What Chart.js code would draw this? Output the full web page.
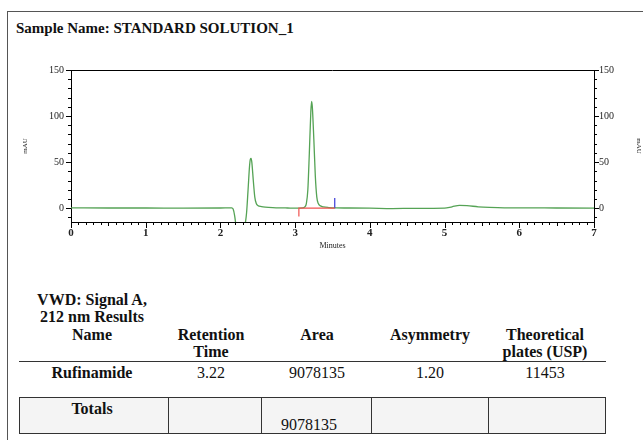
<!DOCTYPE html>
<html>
<head>
<meta charset="utf-8">
<script src="https://cdn.jsdelivr.net/npm/chart.js@4.4.1/dist/chart.umd.min.js"></script>
<style>
  body { margin: 0; background: #fff; }
  #page { position: relative; width: 643px; height: 440px; overflow: hidden; font-family: 'Liberation Serif', 'Times New Roman', serif; color: #111; }
  #frame { position: absolute; left: 7px; top: 11px; width: 700px; height: 500px; border-left: 1.5px solid #555; border-top: 1.5px solid #555; }
  #title { position: absolute; left: 16px; top: 21px; font-weight: bold; font-size: 15px; line-height: 15px; white-space: nowrap; }
  #chart { position: absolute; left: 0; top: 0; }
  .t { position: absolute; font-size: 16px; line-height: 16px; white-space: nowrap; transform: translateX(-50%); }
  .b { font-weight: bold; }
  #rule { position: absolute; left: 19px; top: 361px; width: 587px; height: 0; border-top: 1.5px solid #333; }
  #totals { position: absolute; left: 19px; top: 397px; width: 585px; height: 35px; border: 1.5px solid #333; background: #f4f4f4; }
  .sep { position: absolute; top: 0; height: 35px; width: 0; border-left: 1.5px solid #333; }
</style>
</head>
<body>
<div id="page">
  <div id="frame"></div>
  <div id="title">Sample Name: STANDARD SOLUTION_1</div>
  <canvas id="chart" width="643" height="260"></canvas>
  <div id="rule"></div>
  <div id="totals"></div>
  <div id="table"></div>
</div>
<script>
// chromatogram trace (minutes, mAU)
const times = [0, 0.5, 1.0, 1.5, 2.0, 2.15, 2.17, 2.19, 2.21, 2.25, 2.30, 2.33, 2.35, 2.37, 2.39, 2.40, 2.41, 2.42, 2.44, 2.46, 2.48, 2.50, 2.55, 2.60, 2.70, 2.80, 2.90, 3.00, 3.10, 3.13, 3.15, 3.17, 3.19, 3.21, 3.22, 3.23, 3.25, 3.27, 3.29, 3.31, 3.34, 3.38, 3.45, 3.55, 3.70, 4.00, 4.30, 4.60, 5.00, 5.10, 5.20, 5.30, 5.45, 5.60, 5.80, 6.00, 6.50, 7.00];
const signal = [0.3, 0.2, 0.2, 0.1, 0.2, 0.3, -1, -8, -20, -40, -30, -18, -5, 20, 46, 53, 54, 50, 30, 12, 5, 3, 1.8, 1.2, 0.6, 0.3, 0.2, 0.1, 0.3, 1.5, 5, 20, 60, 105, 116, 110, 75, 35, 12, 5, 2.5, 1.4, 0.7, 0.3, 0.2, 0, -0.4, -0.2, 0, 1.5, 3, 2.8, 1.5, 0.8, 0.4, 0.4, 0.2, 0];

// integration baseline (red) and peak end marker (blue)
const baselineTimes = [3.05, 3.05, 3.53];
const baselineValues = [-9, 0, 0];
const markerTimes = [3.53, 3.53];
const markerValues = [0, 11];

const xTickLabels = [0, 1, 2, 3, 4, 5, 6, 7];
const yTickLabels = [0, 50, 100, 150];

// results table
const resultHeader = ['VWD: Signal A,', '212 nm Results'];
const columnNames = [['Name'], ['Retention', 'Time'], ['Area'], ['Asymmetry'], ['Theoretical', 'plates (USP)']];
const rowValues = ['Rufinamide', '3.22', '9078135', '1.20', '11453'];
const totalsValues = ['Totals', '', '9078135', '', ''];

const toPoints = (xs, ys) => xs.map((x, i) => ({ x: x, y: ys[i] }));

// build table text
const colCenters = [92, 211, 317, 430, 545];
const table = document.getElementById('table');
function addText(text, cx, top, bold) {
  const d = document.createElement('div');
  d.className = 't' + (bold ? ' b' : '');
  d.style.left = cx + 'px';
  d.style.top = top + 'px';
  d.textContent = text;
  table.appendChild(d);
}
resultHeader.forEach((s, i) => addText(s, colCenters[0], 292 + i * 17, true));
columnNames.forEach((lines, c) => lines.forEach((s, i) => addText(s, colCenters[c], 327 + i * 17, true)));
rowValues.forEach((s, c) => addText(s, colCenters[c], 365, c === 0));
addText(totalsValues[0], colCenters[0], 401, true);
totalsValues.slice(1).forEach((s, c) => { if (s) addText(s, 309, 417, false); });
const totalsBox = document.getElementById('totals');
[148, 241, 351, 468].forEach(x => {
  const s = document.createElement('div');
  s.className = 'sep';
  s.style.left = x + 'px';
  totalsBox.appendChild(s);
});

// tick marks (major/minor) and top frame line
const tickMarks = {
  id: 'tickMarks',
  afterDraw(chart) {
    const { ctx, chartArea: a, scales } = chart;
    ctx.save();
    ctx.strokeStyle = '#000';
    ctx.lineWidth = 1;
    ctx.beginPath();
    ctx.moveTo(a.left, a.top + 0.5);
    ctx.lineTo(a.right, a.top + 0.5);
    scales.x.ticks.forEach(t => {
      const v = Math.round(t.value * 10);
      const len = v % 10 === 0 ? 6 : (v % 5 === 0 ? 4 : 3);
      const px = Math.round(scales.x.getPixelForValue(t.value)) + 0.5;
      ctx.moveTo(px, a.bottom);
      ctx.lineTo(px, a.bottom + len);
    });
    ['y', 'y2'].forEach(id => {
      const s = scales[id];
      const dir = id === 'y' ? -1 : 1;
      const edge = id === 'y' ? a.left : a.right;
      s.ticks.forEach(t => {
        const len = t.value % 50 === 0 ? 5 : 3;
        const py = Math.round(s.getPixelForValue(t.value)) + 0.5;
        ctx.moveTo(edge, py);
        ctx.lineTo(edge + dir * len, py);
      });
    });
    ctx.stroke();
    ctx.restore();
  }
};

const yAxis = (position, width, padTop) => ({
  type: 'linear',
  position: position,
  min: -15,
  max: 150,
  grid: { display: false, drawTicks: false },
  border: { display: true, color: '#000', width: 1 },
  afterBuildTicks: s => {
    const ticks = [];
    for (let v = -10; v <= 150; v += 10) ticks.push({ value: v });
    s.ticks = ticks;
  },
  ticks: {
    autoSkip: false,
    padding: position === 'left' ? 7 : 5,
    color: '#222',
    font: { family: 'Liberation Serif', size: 10 },
    callback: v => yTickLabels.includes(v) ? String(v) : ''
  },
  title: { display: true, text: 'mAU', color: '#222', font: { family: 'Liberation Serif', size: 7 }, padding: { top: padTop, bottom: 0 } },
  afterFit: s => { s.width = width; }
});

new Chart(document.getElementById('chart').getContext('2d'), {
  type: 'line',
  data: {
    datasets: [
      { data: toPoints(baselineTimes, baselineValues), borderColor: '#f0524f', borderWidth: 1.2, pointRadius: 0, tension: 0 },
      { data: toPoints(markerTimes, markerValues), borderColor: '#3a3ad8', borderWidth: 1.2, pointRadius: 0, tension: 0 },
      { data: toPoints(times, signal), borderColor: '#55a355', borderWidth: 1.3, pointRadius: 0, cubicInterpolationMode: 'monotone' }
    ]
  },
  options: {
    responsive: false,
    animation: false,
    devicePixelRatio: 1,
    layout: { padding: { top: 70, left: 0, right: 0, bottom: 0 } },
    plugins: { legend: { display: false }, tooltip: { enabled: false } },
    scales: {
      x: {
        type: 'linear',
        position: 'bottom',
        min: 0,
        max: 7,
        grid: { display: false, drawTicks: false },
        border: { display: true, color: '#000', width: 1 },
        afterBuildTicks: s => {
          const ticks = [];
          for (let i = 0; i <= 70; i++) ticks.push({ value: i / 10 });
          s.ticks = ticks;
        },
        ticks: {
          autoSkip: false,
          maxRotation: 0,
          padding: 5,
          color: '#222',
          font: { family: 'Liberation Serif', size: 11, weight: 'bold' },
          callback: v => {
            const r = Math.round(v * 10) / 10;
            return xTickLabels.includes(r) ? String(r) : '';
          }
        },
        title: { display: true, text: 'Minutes', color: '#222', font: { family: 'Liberation Serif', size: 8 }, padding: { top: 0, bottom: 9 } },
        afterFit: s => { s.height = 38; }
      },
      y: yAxis('left', 71, 21),
      y2: yAxis('right', 49, 0)
    }
  },
  plugins: [tickMarks]
});
</script>
</body>
</html>
